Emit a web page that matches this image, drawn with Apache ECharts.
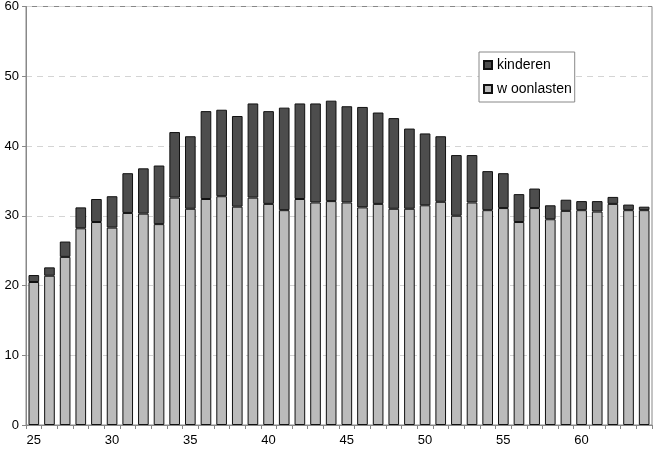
<!DOCTYPE html>
<html>
<head>
<meta charset="utf-8">
<script src="https://cdn.jsdelivr.net/npm/echarts@6/dist/echarts.min.js"></script>
<style>html,body{margin:0;padding:0;background:#fff}#c{width:655px;height:451px}</style>
</head>
<body>
<div id="c"></div>
<script>
const ages = [25,26,27,28,29,30,31,32,33,34,35,36,37,38,39,40,41,42,43,44,45,46,47,48,49,50,51,52,53,54,55,56,57,58,59,60,61,62,63,64];
const woonlasten = [20.5,21.4,24.1,28.2,29.1,28.3,30.4,30.3,28.8,32.6,31.0,32.4,32.8,31.3,32.6,31.7,30.8,32.4,31.9,32.1,31.9,31.2,31.7,31.0,31.0,31.5,32.0,30.0,31.9,30.8,31.1,29.1,31.1,29.5,30.7,30.8,30.6,31.7,30.8,30.8];
const totals = [21.5,22.6,26.3,31.2,32.4,32.8,36.1,36.8,37.2,42.0,41.4,45.0,45.2,44.3,46.1,45.0,45.5,46.1,46.1,46.5,45.7,45.6,44.8,44.0,42.5,41.8,41.4,38.7,38.7,36.4,36.1,33.1,33.9,31.5,32.3,32.1,32.1,32.7,31.6,31.3];
const kinderen = totals.map((t,i)=>+(t - woonlasten[i]).toFixed(1));
const yTicks = [0,10,20,30,40,50,60];

const chart = echarts.init(document.getElementById('c'));
chart.setOption({
  animation:false,
  textStyle:{fontFamily:'Liberation Sans, Arial, sans-serif'},
  grid:{left:26,right:3,top:6,bottom:26,show:true,borderColor:'#888',borderWidth:1},
  legend:{
    data:['kinderen','w oonlasten'],
    orient:'vertical',left:479,top:52,
    padding:[6,3,6,4],itemGap:10,
    itemWidth:8,itemHeight:8,icon:'rect',
    backgroundColor:'#fff',borderColor:'#888',borderWidth:1,
    textStyle:{fontSize:14,color:'#000',fontFamily:'Liberation Sans, Arial, sans-serif'}
  },
  xAxis:{
    type:'category',data:ages,
    axisLine:{lineStyle:{color:'#888'}},
    axisTick:{show:true,interval:0,length:4,alignWithLabel:false,lineStyle:{color:'#888'}},
    axisLabel:{interval:0,formatter:(v)=> (+v % 5 === 0 ? v : ''),fontSize:13,color:'#000',margin:9}
  },
  yAxis:{
    type:'value',min:yTicks[0],max:yTicks[yTicks.length-1],interval:10,
    axisLine:{show:true,lineStyle:{color:'#888'}},
    axisTick:{show:true,length:4,lineStyle:{color:'#888'}},
    axisLabel:{fontSize:13,color:'#000',margin:7},
    splitLine:{show:true,lineStyle:{color:'#d4d4d4',type:[6,5]}}
  },
  series:[
    {name:'w oonlasten',type:'bar',stack:'t',data:woonlasten,barCategoryGap:'32%',
     itemStyle:{color:'#bbbbbb',borderColor:'#111',borderWidth:1}},
    {name:'kinderen',type:'bar',stack:'t',data:kinderen,barCategoryGap:'32%',
     itemStyle:{color:'#4d4d4d',borderColor:'#111',borderWidth:1}}
  ]
});
</script>
</body>
</html>
